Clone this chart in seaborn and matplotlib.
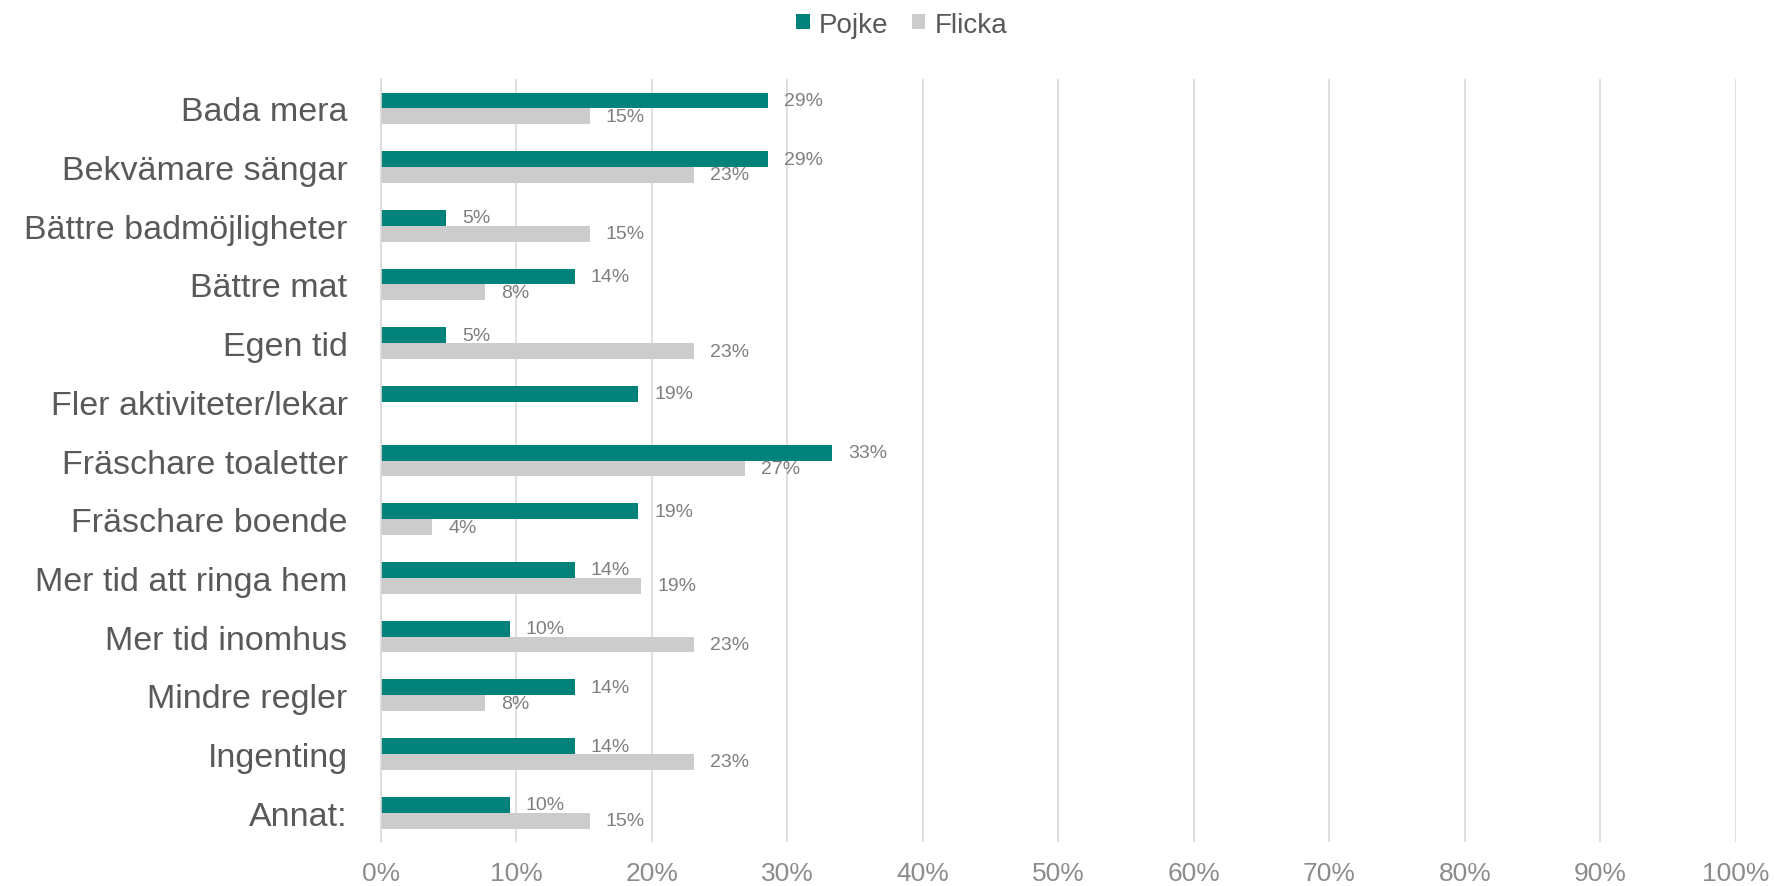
import numpy as np
import pandas as pd
import matplotlib
matplotlib.use("Agg")
import matplotlib.pyplot as plt
import seaborn as sns
from matplotlib.ticker import FixedLocator, FuncFormatter

# Svarsalternativ och andelar (%)
categories = [
    "Bada mera",
    "Bekvämare sängar",
    "Bättre badmöjligheter",
    "Bättre mat",
    "Egen tid",
    "Fler aktiviteter/lekar",
    "Fräschare toaletter",
    "Fräschare boende",
    "Mer tid att ringa hem",
    "Mer tid inomhus",
    "Mindre regler",
    "Ingenting",
    "Annat:",
]
pojke = [28.6, 28.6, 4.8, 14.3, 4.8, 19.0, 33.3, 19.0, 14.3, 9.5, 14.3, 14.3, 9.5]
flicka = [15.4, 23.1, 15.4, 7.7, 23.1, 0.0, 26.9, 3.8, 19.2, 23.1, 7.7, 23.1, 15.4]
groups = ["Pojke", "Flicka"]
colors = ["#00827a", "#cccccc"]

df = pd.DataFrame({
    "Svar": categories * 2,
    "Kön": [groups[0]] * len(categories) + [groups[1]] * len(categories),
    "Andel": pojke + flicka,
})

sns.set_style("white")
plt.rcParams["font.family"] = ["Liberation Sans", "DejaVu Sans"]

fig = plt.figure(figsize=(17.75, 8.87), dpi=100)
ax = fig.add_axes([0.2146, 0.0496, 0.7634, 0.8602])

sns.barplot(data=df, y="Svar", x="Andel", hue="Kön", hue_order=groups,
            palette=colors, width=0.54, orient="h", linewidth=0,
            saturation=1, ax=ax)

# etiketter på staplarna
for cont, vals in zip(ax.containers, [pojke, flicka]):
    labels = [f"{v:.0f}%" if v > 0 else "" for v in vals]
    ax.bar_label(cont, labels=labels, padding=11.5, fontsize=14, color="#7f7f7f")

# legend överst
handles, labs = ax.get_legend_handles_labels()
ax.get_legend().remove()
fig.legend(handles, labs, loc="center", bbox_to_anchor=(0.508, 0.971), ncol=2,
           frameon=False, fontsize=20, labelcolor="#595959",
           handlelength=0.47, handleheight=0.47, handletextpad=0.33,
           columnspacing=0.86)

# axlar
ax.set_xlim(0, 100)
ax.set_xticks(range(0, 101, 10))
ax.xaxis.set_major_formatter(FuncFormatter(lambda v, p: f"{v:.0f}%"))
ax.tick_params(axis="x", length=0, pad=14, labelsize=19, labelcolor="#8c8c8c")
ax.tick_params(axis="y", which="major", length=0, pad=24, labelsize=24.5, labelcolor="#595959")
ax.yaxis.set_minor_locator(FixedLocator(np.arange(-0.5, len(categories), 1)))
ax.tick_params(axis="y", which="minor", length=8, width=1.2, color="#d9d9d9")
ax.set_ylim(len(categories) - 0.5, -0.5)

ax.xaxis.grid(True, color="#d9d9d9", linewidth=1.2)
ax.set_axisbelow(True)
for s in ["top", "right", "bottom"]:
    ax.spines[s].set_visible(False)
ax.spines["left"].set_color("#d9d9d9")
ax.spines["left"].set_linewidth(1.2)
ax.set_xlabel("")
ax.set_ylabel("")

fig.savefig("out.png", dpi=100)
